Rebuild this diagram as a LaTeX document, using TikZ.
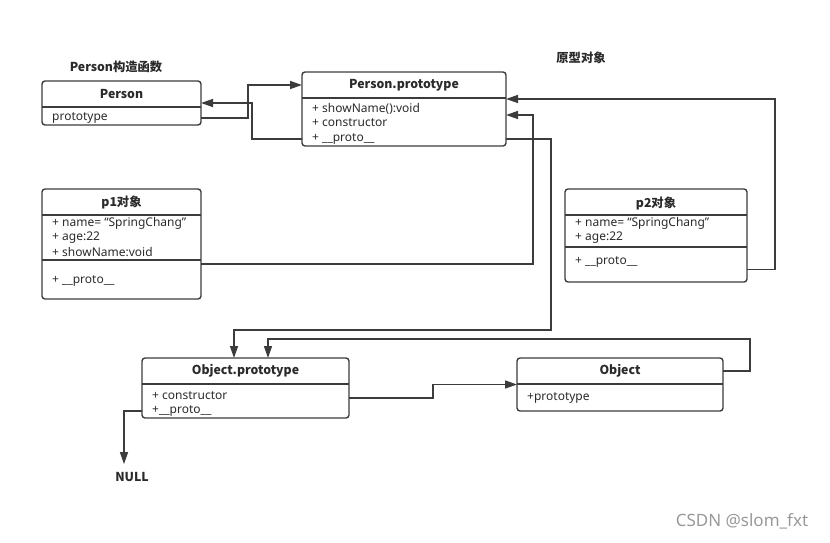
\documentclass[tikz,border=0pt]{standalone}
\usepackage{fontspec}
\setmainfont{Noto Sans}
\newfontfamily\cjk{Noto Sans CJK SC}
\usetikzlibrary{arrows.meta}
\definecolor{linegray}{HTML}{3C3C3C}
\definecolor{textgray}{HTML}{2A2A2A}

\begin{document}
\begin{tikzpicture}[x=1pt, y=-1pt,
    umlbox/.style={draw=linegray, line width=1.4pt, rounded corners=3pt, inner sep=0pt, outer sep=0pt, anchor=north west},
    headtext/.style={font=\cjk\fontsize{12.3}{14}\selectfont\bfseries, text=textgray, inner sep=0pt},
    rowtext/.style={font=\fontsize{12}{13}\selectfont, text=textgray, anchor=west, inner sep=0pt},
    split/.style={draw=linegray, line width=1.1pt},
    link/.style={draw=linegray, line width=1.4pt, -{Triangle[length=12pt,width=8pt]}}]
    \useasboundingbox (0,0) rectangle (830,542);

    % Person
    \node[headtext] (PersonLbl) at (116,67) {Person构造函数};
    \node[umlbox, minimum width=159pt, minimum height=44pt] (Person) at (42,81) {};
    \draw[split] (Person.west |- 0,107) -- (Person.east |- 0,107);
    \node[headtext] (PersonT) at (121.5,94) {Person};
    \node[rowtext] (PersonProto) at (52,118) {prototype};

    % Person.prototype
    \node[headtext] (ProtoLbl) at (581,58) {原型对象};
    \node[umlbox, minimum width=204pt, minimum height=74pt] (PP) at (302,72) {};
    \draw[split] (PP.west |- 0,98) -- (PP.east |- 0,98);
    \node[headtext] (PPT) at (404,85) {Person.prototype};
    \node[rowtext] (PPShow) at (312,109) {+ showName():void};
    \node[rowtext] (PPCons) at (312,123) {+ constructor};
    \node[rowtext] (PPProto) at (312,139) {+ \_\_proto\_\_};

    % p1
    \node[umlbox, minimum width=159pt, minimum height=110pt] (p1) at (42,189) {};
    \draw[split] (p1.west |- 0,215) -- (p1.east |- 0,215);
    \draw[split] (p1.west |- 0,260) -- (p1.east |- 0,260);
    \node[headtext] (p1T) at (121.5,202) {p1对象};
    \node[rowtext] (p1Name) at (52,223) {+ name= “SpringChang”};
    \node[rowtext] (p1Age) at (52,238) {+ age:22};
    \node[rowtext] (p1Show) at (52,252) {+ showName:void};
    \node[rowtext] (p1Proto) at (52,281) {+ \_\_proto\_\_};

    % p2
    \node[umlbox, minimum width=182pt, minimum height=93pt] (p2) at (565,189) {};
    \draw[split] (p2.west |- 0,215) -- (p2.east |- 0,215);
    \draw[split] (p2.west |- 0,247) -- (p2.east |- 0,247);
    \node[headtext] (p2T) at (656,203) {p2对象};
    \node[rowtext] (p2Name) at (575,223) {+ name= “SpringChang”};
    \node[rowtext] (p2Age) at (575,238) {+ age:22};
    \node[rowtext] (p2Proto) at (575,262) {+ \_\_proto\_\_};

    % Object.prototype
    \node[umlbox, minimum width=207pt, minimum height=60pt] (OP) at (142,358) {};
    \draw[split] (OP.west |- 0,384) -- (OP.east |- 0,384);
    \node[headtext] (OPT) at (245.5,371) {Object.prototype};
    \node[rowtext] (OPCons) at (152,396) {+ constructor};
    \node[rowtext] (OPProto) at (152,411) {+\_\_proto\_\_};

    % Object
    \node[umlbox, minimum width=206pt, minimum height=53pt] (Obj) at (517,358) {};
    \draw[split] (Obj.west |- 0,384) -- (Obj.east |- 0,384);
    \node[headtext] (ObjT) at (620,371) {Object};
    \node[rowtext] (ObjProto) at (527,398) {+prototype};

    \node[headtext] (NULL) at (132,477) {NULL};
    \node[font=\fontsize{17}{19}\selectfont, text=black!40] (mark) at (742,521) {CSDN @slom\_fxt};

    % connectors
    \draw[link] (Person.east |- PersonProto) -- ++(47,0) |- (PP.west |- PPT);
    \draw[link] (PP.west |- PPProto) -- ++(-50,0) |- (Person.east);
    \draw[link] ([yshift=-20pt]p1.east) -| ([yshift=-6pt,xshift=27pt]PP.east) -- ([yshift=-6pt]PP.east);
    \draw[link] ([yshift=-34pt]p2.east) -- ++(28,0) |- ([yshift=10pt]PP.east);
    \draw[link] (PP.east |- PPProto) -| ++(45,191) -| ([xshift=-11.5pt]OP.north);
    \draw[link] (Obj.east |- ObjT) -| ++(27,-32) -| ([xshift=22.5pt]OP.north);
    \draw[link] ([yshift=-10pt]OP.east) -- ++(84,0) |- (Obj.west);
    \draw[link] (OP.west |- OPProto) -| ([xshift=-8pt,yshift=8pt]NULL.north);
\end{tikzpicture}
\end{document}
